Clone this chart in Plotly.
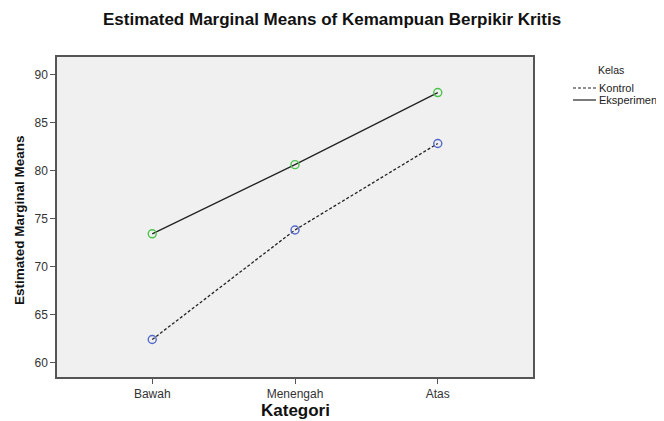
import plotly.graph_objects as go

categories = ["Bawah", "Menengah", "Atas"]
kontrol = [62.4, 73.8, 82.8]
eksperimen = [73.4, 80.6, 88.1]
y_ticks = [60, 65, 70, 75, 80, 85, 90]

FONT = "Liberation Sans, Arial, sans-serif"
x_idx = list(range(len(categories)))

fig = go.Figure()
fig.add_trace(go.Scatter(
    x=x_idx, y=kontrol, mode="lines+markers", name="Kontrol",
    line=dict(color="#222222", width=1.3, dash="3px,2px"),
    marker=dict(symbol="circle-open", size=8, color="#5468CC", line=dict(width=1.4)),
    showlegend=False,
))
fig.add_trace(go.Scatter(
    x=x_idx, y=eksperimen, mode="lines+markers", name="Eksperimen",
    line=dict(color="#222222", width=1.3),
    marker=dict(symbol="circle-open", size=8, color="#4CC44C", line=dict(width=1.4)),
    showlegend=False,
))

# page body has an 8px default margin; work in screen pixels and offset
OFF = 8
W, H = 664 - OFF, 421 - OFF
# plot box in screen pixels
X0, X1, Y0, Y1 = 57, 533, 57, 377
L, T = X0 - OFF, Y0 - OFF
R, B = W - (X1 - OFF), H - (Y1 - OFF)
PW, PH = X1 - X0, Y1 - Y0

def px(x):
    return (x - X0) / PW

def py(y):
    return (Y1 - y) / PH

legend_items = [("Kontrol", "3px,2px"), ("Eksperimen", "solid")]
shapes = []
annotations = [
    dict(text="<b>Estimated Marginal Means of Kemampuan Berpikir Kritis</b>",
         x=px(332), y=py(20), xref="paper", yref="paper", showarrow=False,
         font=dict(family=FONT, size=17, color="#111"), xanchor="center", yanchor="middle"),
    dict(text="<b>Estimated Marginal Means</b>", textangle=-90,
         x=px(19), y=py(220), xref="paper", yref="paper", showarrow=False,
         font=dict(family=FONT, size=13.5, color="#111"), xanchor="center", yanchor="middle"),
    dict(text="<b>Kategori</b>",
         x=px(295), y=py(410), xref="paper", yref="paper", showarrow=False,
         font=dict(family=FONT, size=17, color="#111"), xanchor="center", yanchor="middle"),
    dict(text="Kelas", x=px(611), y=py(70), xref="paper", yref="paper",
         showarrow=False, font=dict(family=FONT, size=10.5, color="#222"),
         xanchor="center", yanchor="middle"),
]
for i, (name, dash) in enumerate(legend_items):
    yy = 88 + i * 12
    shapes.append(dict(type="line", xref="paper", yref="paper",
                       x0=px(573), x1=px(596), y0=py(yy), y1=py(yy),
                       line=dict(color="#222", width=1.2, dash=dash)))
    annotations.append(dict(text=name, x=px(597), y=py(yy), xref="paper", yref="paper",
                            showarrow=False, font=dict(family=FONT, size=11, color="#222"),
                            xanchor="left", yanchor="middle"))

fig.update_layout(
    width=W, height=H,
    margin=dict(l=L, r=R, t=T, b=B, autoexpand=False),
    paper_bgcolor="white", plot_bgcolor="#F0F0F0",
    shapes=shapes, annotations=annotations,
    showlegend=False,
)
fig.update_xaxes(
    range=[-0.667, 2.667], tickvals=x_idx, ticktext=categories,
    showgrid=False, zeroline=False, automargin=False,
    showline=True, linecolor="#555", linewidth=1.5, mirror=True,
    ticks="outside", ticklen=5, tickcolor="#555",
    tickfont=dict(family=FONT, size=12, color="#333"),
)
fig.update_yaxes(
    range=[58.5, 91.8], tickvals=y_ticks,
    showgrid=False, zeroline=False, automargin=False,
    showline=True, linecolor="#555", linewidth=1.5, mirror=True,
    ticks="outside", ticklen=5, tickcolor="#555",
    tickfont=dict(family=FONT, size=12, color="#333"),
)

fig.write_html("out.html")
